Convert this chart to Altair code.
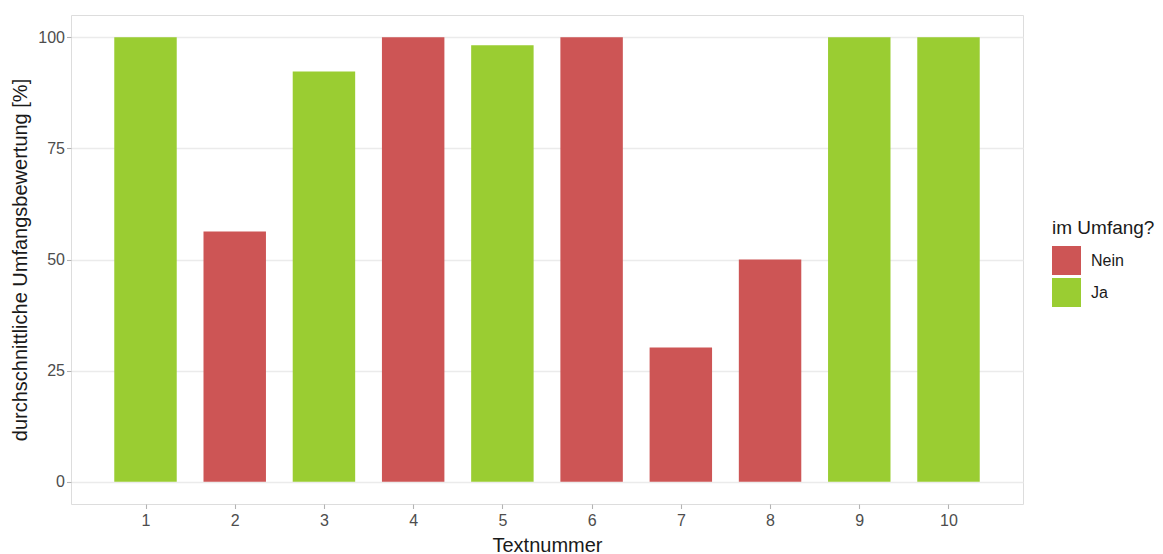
import altair as alt
import pandas as pd

textnummer = [1, 2, 3, 4, 5, 6, 7, 8, 9, 10]
bewertung = [100, 56.3, 92.3, 100, 98.2, 100, 30.2, 50, 100, 100]
im_umfang = ["Ja", "Nein", "Ja", "Nein", "Ja", "Nein", "Nein", "Nein", "Ja", "Ja"]
kategorien = ["Nein", "Ja"]
farben = ["#CD5555", "#9ACD32"]
x_ticks = textnummer
y_ticks = [0, 25, 50, 75, 100]

df = pd.DataFrame({"Textnummer": textnummer, "Wert": bewertung, "Umfang": im_umfang})

FONT = "Liberation Sans"

bars = alt.Chart(df).transform_calculate(
    x0="datum.Textnummer - 0.35", x1="datum.Textnummer + 0.35"
).mark_bar(stroke=None).encode(
    x=alt.X("x0:Q",
            scale=alt.Scale(domain=[0.165, 10.835], nice=False, zero=False),
            axis=alt.Axis(values=x_ticks, title="Textnummer", grid=False,
                          tickColor="#b3b3b3", tickSize=4.5, tickWidth=1.1,
                          labelColor="#4d4d4d", labelFontSize=16, labelFont=FONT,
                          labelPadding=4, domain=False, format="d",
                          titleFont=FONT, titleFontSize=20, titleFontWeight="normal",
                          titleColor="#1a1a1a", titleY=41, titleBaseline="middle")),
    x2="x1:Q",
    y=alt.Y("Wert:Q",
            scale=alt.Scale(domain=[-5, 105], nice=False, zero=False),
            axis=alt.Axis(values=y_ticks, title="durchschnittliche Umfangsbewertung [%]",
                          grid=True, gridColor="#ebebeb", gridWidth=1.3,
                          tickColor="#b3b3b3", tickSize=4.5, tickWidth=1.1,
                          labelColor="#4d4d4d", labelFontSize=16, labelFont=FONT,
                          labelPadding=2, domain=False,
                          titleFont=FONT, titleFontSize=20, titleFontWeight="normal",
                          titleColor="#1a1a1a", titleX=-51, titleBaseline="middle")),
    y2=alt.datum(0),
    color=alt.Color("Umfang:N",
                    scale=alt.Scale(domain=kategorien, range=farben),
                    legend=alt.Legend(title="im Umfang?", orient="none",
                                      legendX=981, legendY=204,
                                      symbolType="square", symbolSize=841,
                                      symbolStrokeWidth=0, symbolOpacity=1,
                                      rowPadding=3, labelOffset=10,
                                      titleFont=FONT, titleFontSize=19,
                                      titleFontWeight="normal", titleColor="#1a1a1a",
                                      titlePadding=8,
                                      labelFont=FONT, labelFontSize=16,
                                      labelColor="#1a1a1a")),
)

chart = bars.properties(
    width=952, height=489,
    padding={"left": 63, "top": 7, "right": 132, "bottom": 50},
    autosize=alt.AutoSizeParams(type="none"),
).configure_view(
    stroke="#adadad", strokeWidth=1.5
).configure(background="white")

chart.save("out.html", embed_options={"renderer": "svg", "actions": False})
